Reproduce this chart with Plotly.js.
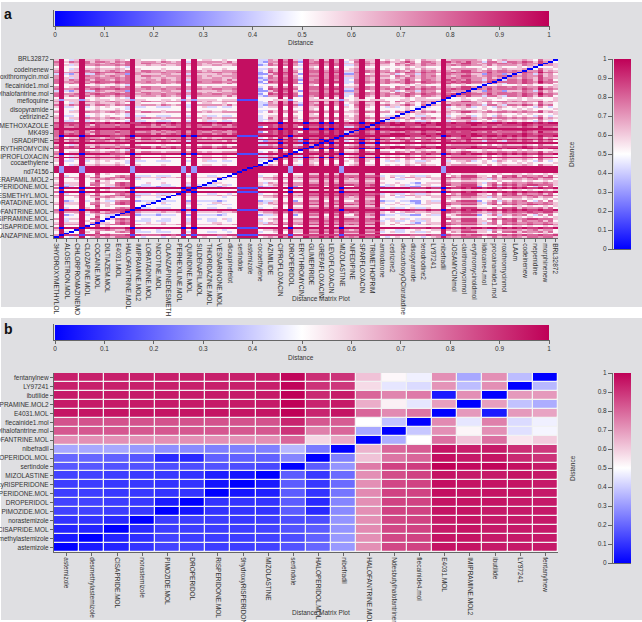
<!DOCTYPE html>
<html><head><meta charset="utf-8"><script src="https://cdn.plot.ly/plotly-3.0.1.min.js"></script>
<style>html,body{margin:0;padding:0;background:#fff}#c{width:642px;height:622px}</style></head>
<body><div id="c"></div><script>
const levels=[0,.15,.3,.42,.52,.62,.72,.8,.88,.97];
const colorStops=[[0,'#0000ff'],[.5,'#ffffff'],[1,'#bf0057']];
const rowPatternsA=[
"6953596676 6676795565 5655695965 5665569999 2376979639 6696979336 9659554657 6576659676 7766575666 657658665",
"5943595565 5565495444 4544494945 5445449999 3365969539 6595969456 9559454546 5465549566 6665464565 556547554",
"7966796787 7787796676 6766796976 6776679999 2487989749 7797989337 9769676768 7687769787 8877686777 768769776",
"4944494454 4454394444 4444494944 4444449999 4444949449 5494949445 9449444445 4554449544 5444544544 454544445",
"3932593376 5566296555 5665593955 5565569999 2257979529 6696969226 9459556346 6376649766 6755276625 557637564",
"6945597665 6765795776 6566696965 6556669999 3475969649 7796979556 9769664765 7576759656 8865676776 767668565",
"5933493454 5444393344 3334493945 3343349999 3455949549 5594949546 9549435345 4335449345 5634543654 545436434",
"7957697577 6576795666 5765693966 6665759999 3266979729 6797969347 9659675568 6477659867 6866377537 768758674",
"7978797587 7767798886 8678797978 8678689999 8887989789 8898989778 9879889998 8898899888 8898888788 889878888",
"5943594575 6577794344 4345494945 4435459999 4565969559 7797969676 9779434544 5434569655 7776457566 765776775",
"4934495474 4467693334 3334493944 3344349999 3445949559 7797979777 9778345334 5335449465 8885547477 857667574",
"5955594675 5478794454 4544495944 4554449999 5365969669 6696969666 9669544544 3245559766 7775367476 766766765",
"4944494484 5444494444 4444494944 4444449999 4444949449 5595959555 9559444444 4444449544 5554444544 554544545",
"6966695785 6778796555 5655695955 5565569999 5667979679 8898989787 9889546456 6556559876 8886567587 877877886",
"4923493464 3367792333 2333492933 3323449999 2335949249 7794979447 9679233433 2245339457 8882457365 767436474",
"5944594566 7655793444 3444494944 4443449999 4556959559 6696969656 9669544334 4544559655 7765536566 665675664",
"6935594774 5578794334 4334493934 3345349999 5456959669 8896989887 9789435453 4355449866 8885468687 867887775",
"7099909999 9888909999 9999909099 9999991111 9999990999 9999990999 9999999999 8889880988 9899899898 989889889",
"6188818878 8777818777 7887818188 8877881111 8888881888 8888881888 8888888888 7778771877 8788788787 878778778",
"5255525455 5455525544 4554525255 5545551111 4445552449 5555552545 5455544455 4555552444 5545554445 554555445",
"9999999999 9999999999 9999999999 9999999999 9999099990 9909099999 0990999999 9999999999 9999999999 999999999",
"8988898988 9898988998 9989898999 9899989999 9999099990 9909099899 0990989898 8989899898 8999899989 989989899",
"9299929999 9999929999 9999929299 9999999999 9999992999 9999992999 9999999999 9999992999 9999999999 999999999"
];
const rowMapA=[9,18,12,10,15,17,12,13,11,10,16,12,14,15,13,17,10,12,16,11,14,12,15,13,10,17,12,17,14,16,11,12,15,13,10,12,22,22,22,22,1,3,6,1,20,1,17,5,3,21,8,1,20,7,21,5,17,8,2,8,20,2,8,21,6,1,5,6,3,5,1,3,6,7,1,5,19,3,7,2,5,4,2,5,3,7,2,7,0,5,4,2,5,1,3,0,5,7,1];
const xLabelsA=["3HYDROXYMETHYLOL","ALOSETRON.MOL","CHLORPROMAZINEMO","CLOZAPINE.MOL","COCAINE.MOL","DILTIAZEM.MOL","E4031.MOL","HALOFANTRINE.MOL","IMIPRAMINE.MOL2","LORATADINE.MOL","NICOTINE.MOL","OLANZAPINEDESMETH","PERHEXILINE.MOL","QUINIDINE.MOL","SILDENAFIL.MOL","THIORIDAZINE.MOL","VESNARINONE.MOL","dicxapinefelot","sertindole","astemizole","cocaethylene","AZIMILIDE","CIPROFLOXACIN","DROPERIDOL","ERYTHROMYCIN","GLIMEPIRIDE","GREPAFLOXACIN","LEVOFLOXACIN","MIZOLASTINE","NIFEDIPINE","SPARFLOXACIN","TRIMETHOPRIM","amiodarone","cetirizine2","descarboxyOCloratadine","disopyramide","terodrodine2","LY97241","nibefradil","JOSAMYCINmol","clarithromycinmol","erythromycinoldmol","lidocaine4.mol","procainamide1.mol","roxithromycinmol","LAAm","codeinenew","nepenidine","morphinenew","BRL32872"];
const xTicksA=[0,2,4,6,8,10,12,14,16,18,20,22,24,26,28,30,32,34,36,38,40,42,44,46,48,50,52,54,56,58,60,62,64,66,68,70,72,74,76,78,80,82,84,86,88,90,92,94,96,98];
const yLabelsA=["3HYDROXYMETHYLOLANZAPINE.MOL","CISAPRIDE.MOL","DESIPRAMINE.MOL","HALOFANTRINE.MOL","LORATADINE.MOL","NORDESMETHYL.MOL","RISPERIDONE.MOL","VERAPAMIL.MOL2","nd74156","cocaethylene","CIPROFLOXACIN","ERYTHROMYCIN","ISRADIPINE","MK499","SULFAMETHOXAZOLE","cetirizine2","disopyramide","mefloquine","tbutylhalofantrine.mol","flecainide1.mol","roxithromycin.mol","codeinenew","BRL32872"];
const yTicksA=[1,6,10,14,19,23,28,32,36,41,44.5,49,53.5,57.5,61.5,66.5,70.5,75.5,79.5,83.5,88.5,92.5,98.5];
const drugsB=["astemizole","desmethylastemizole","CISAPRIDE.MOL","norastemizole","PIMOZIDE.MOL","DROPERIDOL","RISPERIDONE.MOL","9hydroxyRISPERIDONE","MIZOLASTINE","sertindole","HALOPERIDOL.MOL","nibefradil","HALOFANTRINE.MOL","Ndesbutylhalofantrinemol","flecainide4.mol","E4031.MOL","IMIPRAMINE.MOL2","ibutilide","LY97241","fentanylnew"];
const yDrugsB=["astemizole","desmethylastemizole","CISAPRIDE.MOL","norastemizole","PIMOZIDE.MOL","DROPERIDOL","RISPERIDONE.MOL","9hydroxyRISPERIDONE","MIZOLASTINE","sertindole","HALOPERIDOL.MOL","nibefradil","HALOFANTRINE.MOL","Ndesbutylhalofantrine.mol","flecainide1.mol","E4031.MOL","IMIPRAMINE.MOL2","ibutilide","LY97241","fentanylnew"];
const zB=[
[0,.05,.07,.1,.13,.13,.12,.12,.13,.16,.2,.3,.72,.86,.87,.96,.96,.95,.95,.95],
[.05,0,.07,.09,.13,.12,.12,.12,.13,.15,.19,.3,.72,.86,.87,.96,.96,.95,.95,.95],
[.07,.07,0,.08,.12,.12,.12,.12,.13,.16,.18,.29,.73,.86,.87,.95,.96,.95,.95,.95],
[.1,.1,.08,0,.12,.12,.12,.11,.12,.15,.15,.29,.72,.86,.87,.95,.96,.95,.95,.95],
[.13,.13,.12,.11,0,.04,.1,.1,.1,.18,.08,.27,.72,.87,.87,.96,.96,.95,.95,.95],
[.13,.13,.12,.11,.05,0,.1,.1,.1,.18,.08,.26,.72,.87,.87,.96,.96,.96,.95,.95],
[.12,.12,.11,.11,.1,.1,0,.04,.06,.18,.1,.23,.73,.87,.87,.97,.96,.96,.96,.95],
[.12,.12,.11,.11,.1,.1,.04,0,.05,.18,.11,.21,.72,.86,.87,.97,.96,.96,.96,.95],
[.13,.13,.12,.11,.11,.1,.06,.04,0,.18,.11,.21,.72,.85,.87,.96,.95,.95,.96,.95],
[.17,.17,.16,.16,.15,.15,.16,.15,.14,0,.18,.29,.76,.87,.88,1,.98,.99,.97,.95],
[.2,.2,.19,.17,.08,.08,.19,.19,.19,.26,0,.25,.62,.77,.8,.97,.95,.96,.92,.9],
[.33,.33,.33,.3,.28,.27,.25,.25,.25,.36,.24,0,.65,.8,.82,.96,.94,.95,.91,.89],
[.72,.72,.72,.72,.72,.72,.72,.72,.72,.8,.58,.67,0,.34,.5,.78,.62,.78,.55,.6],
[.83,.83,.83,.83,.83,.83,.83,.83,.83,.9,.75,.8,.33,0,.39,.72,.52,.72,.44,.48],
[.84,.84,.84,.84,.84,.84,.84,.84,.84,.93,.83,.82,.5,.38,0,.73,.45,.75,.43,.47],
[.96,.96,.96,.96,.96,.96,.96,.96,.96,1,.93,.96,.8,.73,.77,0,.7,.05,.7,.68],
[.95,.95,.95,.95,.95,.95,.95,.95,.95,1,.93,.95,.66,.53,.45,.69,0,.69,.38,.34],
[.95,.95,.95,.95,.95,.95,.95,.95,.95,1,.92,.95,.8,.74,.76,.05,.72,0,.7,.7],
[.94,.94,.94,.94,.94,.94,.94,.94,.94,.99,.9,.89,.57,.45,.43,.71,.37,.72,0,.36],
[.94,.94,.94,.94,.94,.94,.94,.94,.94,.99,.91,.9,.62,.515,.47,.72,.33,.72,.37,0]
];
const barTicks=[0,.1,.2,.3,.4,.5,.6,.7,.8,.9,1];
const barText=["0","0.1","0.2","0.3","0.4","0.5","0.6","0.7","0.8","0.9","1"];

const W=642,H=622;
const px=v=>v/W, py=v=>1-v/H;
const zA=rowMapA.map((p,r)=>{const a=rowPatternsA[p].replace(/ /g,'').split('').map(c=>levels[+c]);a[r]=0;return a;});
const FN='"Liberation Sans",Arial,sans-serif';
const tf={family:FN,size:6.5,color:'#333'};
function hbar(y){return {orientation:'h',thicknessmode:'pixels',thickness:15,lenmode:'pixels',len:494,x:px(55),xanchor:'left',y:py(y),yanchor:'top',xpad:0,ypad:0,outlinewidth:0,borderwidth:0,tickmode:'array',tickvals:barTicks,ticktext:barText,ticks:'outside',ticklen:4,tickcolor:'#666',tickwidth:1,tickfont:tf};}
function vbar(y){return {orientation:'v',thicknessmode:'pixels',thickness:17,lenmode:'pixels',len:190,x:px(614),xanchor:'left',y:py(y),yanchor:'top',xpad:0,ypad:0,outlinewidth:0,borderwidth:0,ticks:'',showticklabels:false};}
const base={type:'heatmap',zmin:0,zmax:1,colorscale:colorStops,hoverinfo:'skip'};
const traces=[
 Object.assign({},base,{z:zA,xaxis:'x',yaxis:'y',showscale:true,colorbar:hbar(11)}),
 Object.assign({},base,{z:zA,xaxis:'x',yaxis:'y',showscale:true,colorbar:vbar(59)}),
 Object.assign({},base,{z:zB,xaxis:'x2',yaxis:'y2',xgap:1.5,ygap:1.5,showscale:true,colorbar:hbar(325)}),
 Object.assign({},base,{z:zB,xaxis:'x2',yaxis:'y2',xgap:1.5,ygap:1.5,showscale:true,colorbar:vbar(373)}),
 {type:'scatter',mode:'none',x:barTicks,y:barTicks,xaxis:'x3',yaxis:'y3',hoverinfo:'skip'},
 {type:'scatter',mode:'none',x:barTicks,y:barTicks,xaxis:'x4',yaxis:'y4',hoverinfo:'skip'}
];
function ax(dom,extra){return Object.assign({domain:dom,showgrid:false,zeroline:false,showline:true,linecolor:'#666',linewidth:1,ticks:'outside',ticklen:3,tickcolor:'#666',tickfont:tf,tickmode:'array'},extra);}
function hiddenX(anchor){return {domain:[px(613),px(631)],anchor:anchor,range:[0,1],showgrid:false,zeroline:false,showticklabels:false,ticks:'',showline:true,linecolor:'#666',linewidth:1};}
const idxB=drugsB.map((d,i)=>i);
const layout={width:W,height:H,margin:{l:0,r:0,t:0,b:0},paper_bgcolor:'#ffffff',plot_bgcolor:'rgba(0,0,0,0)',showlegend:false,
 xaxis:ax([px(54),px(558)],{anchor:'y',range:[-.5,98.5],tickvals:xTicksA,ticktext:xLabelsA,tickangle:90}),
 yaxis:ax([py(238),py(59)],{anchor:'x',range:[-.5,98.5],tickvals:yTicksA,ticktext:yLabelsA}),
 xaxis2:ax([px(54),px(558)],{anchor:'y2',range:[-.5,19.5],tickvals:idxB,ticktext:drugsB,tickangle:90}),
 yaxis2:ax([py(552),py(373)],{anchor:'x2',range:[-.5,19.5],tickvals:idxB,ticktext:yDrugsB}),
 xaxis3:hiddenX('y3'),
 yaxis3:ax([py(249),py(59)],{anchor:'x3',range:[0,1],tickvals:barTicks,ticktext:barText,ticklen:4}),
 xaxis4:hiddenX('y4'),
 yaxis4:ax([py(563),py(373)],{anchor:'x4',range:[0,1],tickvals:barTicks,ticktext:barText,ticklen:4}),
 shapes:[
  {type:'rect',xref:'paper',yref:'paper',layer:'below',x0:px(1),x1:1,y0:py(2),y1:py(307),fillcolor:'#dfdfe2',line:{width:0}},
  {type:'rect',xref:'paper',yref:'paper',layer:'below',x0:px(1),x1:1,y0:py(318),y1:py(620),fillcolor:'#dfdfe2',line:{width:0}},
  {type:'rect',xref:'paper',yref:'paper',layer:'below',x0:px(54),x1:px(558),y0:py(373),y1:py(552),fillcolor:'#f2f2f3',line:{width:0}},
  {type:'line',xref:'paper',yref:'paper',x0:px(53.5),x1:px(53.5),y0:py(10),y1:py(27),line:{color:'#666',width:1}},
  {type:'line',xref:'paper',yref:'paper',x0:px(53.5),x1:px(549),y0:py(26.5),y1:py(26.5),line:{color:'#666',width:1}},
  {type:'line',xref:'paper',yref:'paper',x0:px(53.5),x1:px(53.5),y0:py(324),y1:py(341),line:{color:'#666',width:1}},
  {type:'line',xref:'paper',yref:'paper',x0:px(53.5),x1:px(549),y0:py(340.5),y1:py(340.5),line:{color:'#666',width:1}}
 ],
 annotations:[
  note(8,14,'<b>a</b>',{family:FN,size:14,color:'#111'}),
  note(8,329,'<b>b</b>',{family:FN,size:14,color:'#111'}),
  note(301,43,'Distance',tf),note(301,357,'Distance',tf),
  note(321,298,'Distance Matrix Plot',tf),note(321,612,'Distance Matrix Plot',tf),
  note(572,154,'Distance',tf,-90),note(572,468,'Distance',tf,-90)
 ]};
function note(x,y,t,f,ang){return {xref:'paper',yref:'paper',x:px(x),y:py(y),text:t,showarrow:false,font:f,textangle:ang||0,xanchor:'center',yanchor:'middle'};}
Plotly.newPlot('c',traces,layout,{displayModeBar:false,staticPlot:true});
</script></body></html>
